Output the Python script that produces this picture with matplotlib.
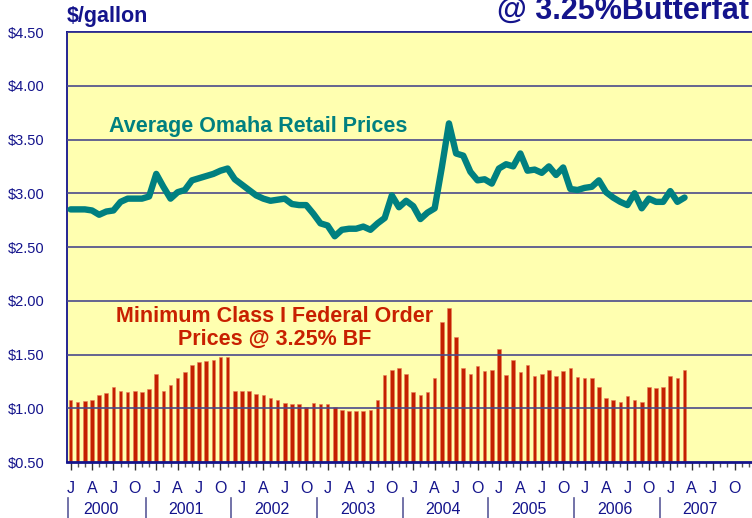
import numpy as np
import matplotlib
matplotlib.use('Agg')
import matplotlib.pyplot as plt
import matplotlib.transforms as mtransforms

# monthly values, Jan 2000 .. Mar 2007
retail = [2.85, 2.85, 2.85, 2.84, 2.80, 2.83, 2.84, 2.92, 2.95, 2.95, 2.95, 2.97,
          3.18, 3.06, 2.95, 3.01, 3.03, 3.12, 3.14, 3.16, 3.18, 3.21, 3.23, 3.13,
          3.08, 3.03, 2.98, 2.95, 2.93, 2.94, 2.95, 2.90, 2.89, 2.89, 2.81, 2.72,
          2.70, 2.60, 2.66, 2.67, 2.67, 2.69, 2.66, 2.72, 2.77, 2.98, 2.87, 2.93,
          2.88, 2.76, 2.82, 2.86, 3.24, 3.65, 3.37, 3.35, 3.20, 3.12, 3.13, 3.09,
          3.23, 3.27, 3.25, 3.37, 3.21, 3.22, 3.19, 3.25, 3.17, 3.24, 3.04, 3.03,
          3.05, 3.06, 3.12, 3.01, 2.96, 2.92, 2.89, 3.00, 2.86, 2.95, 2.92, 2.92,
          3.02, 2.92, 2.96]
class1 = [1.08, 1.06, 1.07, 1.08, 1.12, 1.14, 1.20, 1.16, 1.15, 1.16, 1.15, 1.18,
          1.32, 1.16, 1.22, 1.28, 1.34, 1.40, 1.43, 1.44, 1.45, 1.48, 1.48, 1.16,
          1.16, 1.16, 1.13, 1.12, 1.10, 1.08, 1.05, 1.04, 1.04, 1.01, 1.05, 1.04,
          1.04, 1.01, 0.98, 0.97, 0.97, 0.97, 0.98, 1.08, 1.31, 1.36, 1.37, 1.32,
          1.15, 1.12, 1.15, 1.28, 1.80, 1.93, 1.66, 1.37, 1.32, 1.39, 1.35, 1.36,
          1.55, 1.31, 1.45, 1.34, 1.40, 1.30, 1.32, 1.36, 1.30, 1.35, 1.37, 1.29,
          1.28, 1.28, 1.20, 1.10, 1.08, 1.06, 1.11, 1.08, 1.06, 1.20, 1.19, 1.20,
          1.30, 1.28, 1.36]
years = ['2000', '2001', '2002', '2003', '2004', '2005', '2006', '2007']
month_labels = ['J', 'A', 'J', 'O']
yticks = [0.5, 1.0, 1.5, 2.0, 2.5, 3.0, 3.5, 4.0, 4.5]

navy = '#14148c'
plt.rcParams['font.family'] = ['Liberation Sans', 'DejaVu Sans']

fig = plt.figure(figsize=(7.52, 5.18), dpi=100)
ax = fig.add_axes([0.0891, 0.1081, 0.9114, 0.8301])
ax.set_facecolor('#ffffb0')

x = np.arange(len(class1))
ax.bar(x, class1, width=0.5, color='#c42000', edgecolor='#e8805a', linewidth=0.4, zorder=2)
for v in yticks[1:]:
    ax.axhline(v, color='#4a4a8a', lw=1.2, zorder=3)
ax.plot(x, retail, color='#008080', lw=4.6, solid_joinstyle='round', solid_capstyle='round', zorder=4)

ax.set_xlim(-0.5, 95.5)
ax.set_ylim(0.5, 4.5)
ax.set_yticks(yticks)
ax.set_yticklabels(['$%.2f' % v for v in yticks], fontsize=10.5, color=navy)
ax.tick_params(axis='y', length=0, pad=16)

ax.set_xticks(np.arange(0, 96, 3))
ax.set_xticklabels(month_labels * len(years), fontsize=11.5, color=navy)
ax.set_xticks(np.arange(96), minor=True)
ax.tick_params(axis='x', which='major', length=6, width=1, color='#333333', pad=8)
ax.tick_params(axis='x', which='minor', length=3.5, width=1, color='#555555')

for s in ['left', 'top']:
    ax.spines[s].set_color(navy)
    ax.spines[s].set_linewidth(1.3)
ax.spines['bottom'].set_color(navy)
ax.spines['bottom'].set_linewidth(2)
ax.spines['right'].set_visible(False)

trans = mtransforms.blended_transform_factory(ax.transData, ax.transAxes)
for i, yr in enumerate(years):
    ax.text(12 * i + 4.2, -0.11, yr, transform=trans, ha='center', va='center',
            fontsize=11.5, color=navy)
    sep = -0.4 if i == 0 else 12 * i - 1.5
    ax.plot([sep, sep], [-0.083, -0.132], transform=trans, color='#5a5a9a', lw=1.2, clip_on=False)

ax.text(26.3, 3.62, 'Average Omaha Retail Prices', ha='center', va='center',
        fontsize=15.5, fontweight='bold', color='#008080', zorder=5)
ax.text(28.6, 1.75, 'Minimum Class I Federal Order\nPrices @ 3.25% BF', ha='center', va='center',
        fontsize=15.5, fontweight='bold', color='#c82000', linespacing=1.1, zorder=5)

fig.text(67 / 752, 1 - 22 / 518, '$/gallon', ha='left', va='baseline',
         fontsize=15.5, fontweight='bold', color=navy)
fig.text(749 / 752, 1 - 19 / 518, '@ 3.25%Butterfat', ha='right', va='baseline',
         fontsize=22, fontweight='bold', color=navy)

fig.savefig('out.png', dpi=100, facecolor='white')
